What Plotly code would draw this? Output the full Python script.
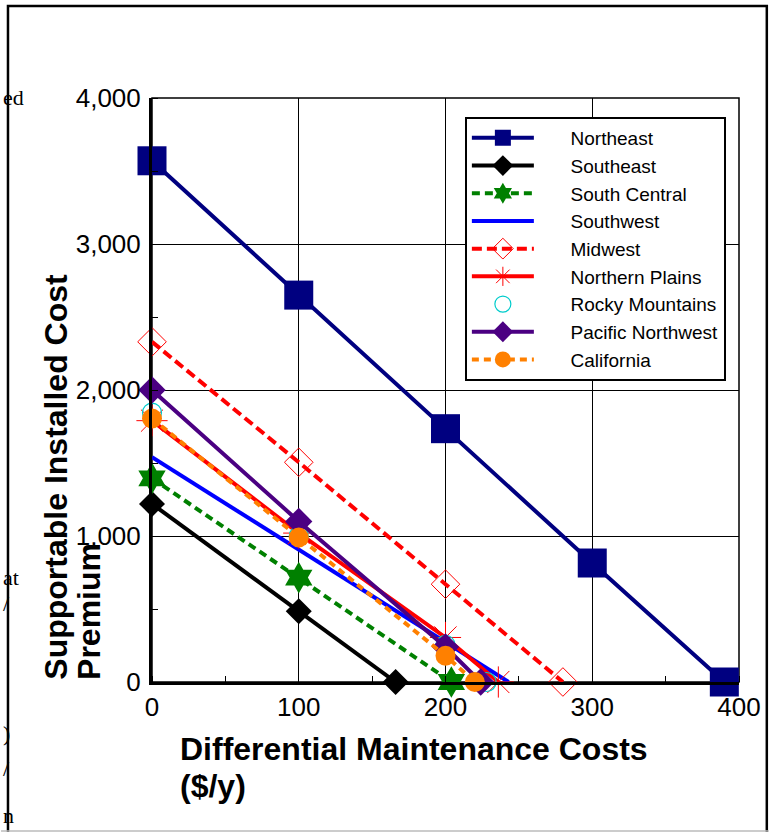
import plotly.graph_objects as go

# ---- data ----
ne_x = [0, 100, 200, 300, 390]
ne_y = [3570, 2650, 1735, 815, 0]

se_x = [0, 100, 166]
se_y = [1220, 485, 0]

sc_x = [0, 100, 204]
sc_y = [1395, 715, 0]

sw_x = [0, 100, 200, 243]
sw_y = [1540, 905, 270, 0]

mw_x = [0, 100, 200, 280]
mw_y = [2330, 1505, 670, 0]

np_x = [0, 100, 200, 236]
np_y = [1790, 1020, 305, 0]

rm_x = [0, 100, 200, 228]
rm_y = [1845, 1000, 255, 0]

pnw_x = [0, 100, 200, 224]
pnw_y = [2000, 1100, 240, 0]

ca_x = [0, 100, 200, 220]
ca_y = [1805, 990, 180, 0]

x_ticks = [0, 100, 200, 300, 400]
y_ticks = [0, 1000, 2000, 3000, 4000]

FONT = "Liberation Sans, Arial, sans-serif"
PAD = "\u00a0" * 6  # gap between legend symbol and label

fig = go.Figure()

def add(name, x, y, mode, color, dash="solid", width=4, symbol="circle",
        size=18, mcolor=None, mline=0, mlinecolor=None):
    fig.add_trace(go.Scatter(
        x=x, y=y, name=PAD + name, mode=mode, cliponaxis=False,
        line=dict(color=color, width=width, dash=dash),
        marker=dict(symbol=symbol, size=size, color=mcolor or color,
                    line=dict(width=mline, color=mlinecolor or color)),
    ))

add("Northeast", ne_x, ne_y, "lines+markers", "#000080", symbol="square", size=29)
add("Southeast", se_x, se_y, "lines+markers", "#000000", symbol="diamond", size=20)
add("South Central", sc_x, sc_y, "lines+markers", "#008000", dash="8px,5px",
    symbol="hexagram", size=24)
add("Southwest", sw_x, sw_y, "lines", "#0000FF")
add("Midwest", mw_x, mw_y, "lines+markers", "#FF0000", dash="10px,5px",
    symbol="diamond-open", size=22, mline=1)
add("Northern Plains", np_x, np_y, "lines+markers", "#FF0000",
    symbol="asterisk-open", size=26, mline=1)
add("Rocky Mountains", rm_x, rm_y, "markers", "#00CCCC",
    symbol="circle-open", size=19, mline=1.2)
add("Pacific Northwest", pnw_x, pnw_y, "lines+markers", "#4B0082",
    symbol="diamond", size=21)
add("California", ca_x, ca_y, "lines+markers", "#FF8000", dash="7px,5px",
    symbol="circle", size=20)

L, R, T, B = 152, 30, 98, 150
W, H = 773, 832
pw, ph = W - L - R, H - T - B

def px(xp):
    return (xp - L) / pw

def py(yp):
    return (H - B - yp) / ph

axis_common = dict(
    showgrid=True, gridcolor="#000000", gridwidth=1,
    showline=True, linecolor="#000000", linewidth=3,
    zeroline=False, ticks="",
    tickfont=dict(family=FONT, size=26, color="#000000"),
)

fig.update_layout(
    width=W, height=H,
    margin=dict(l=L, r=R, t=T, b=B),
    plot_bgcolor="white", paper_bgcolor="white",
    xaxis=dict(range=[0, 400], tickvals=x_ticks, **axis_common,
               minor=dict(dtick=50, ticks="inside", ticklen=6,
                          tickcolor="#000000", tickwidth=1, showgrid=False)),
    yaxis=dict(range=[0, 4000], tickvals=y_ticks, tickformat=",",
               ticklabelstandoff=3, **axis_common,
               minor=dict(dtick=500, ticks="inside", ticklen=6,
                          tickcolor="#000000", tickwidth=1, showgrid=False)),
    legend=dict(x=px(467), y=py(117), xanchor="left", yanchor="top",
                bgcolor="white", bordercolor="#000000", borderwidth=2,
                font=dict(family=FONT, size=19, color="#000000"),
                itemwidth=62, tracegroupgap=0),
    showlegend=True,
)

# plot-area box (thin top/right)
fig.add_shape(type="rect", xref="x domain", yref="y domain",
              x0=0, x1=1, y0=0, y1=1, line=dict(color="#000000", width=1.5),
              layer="below")

# outer frame of the picture
fig.add_shape(type="rect", xref="paper", yref="paper",
              x0=px(7), x1=px(771), y0=py(850), y1=py(6),
              line=dict(color="#000000", width=2.5))
fig.add_shape(type="line", xref="paper", yref="paper",
              x0=px(0), x1=px(773), y0=py(831), y1=py(831),
              line=dict(color="#BBBBBB", width=1.5))

# axis titles (one annotation per line to keep tight line spacing)
TB = dict(family=FONT, size=32, color="#000000")
fig.add_annotation(xref="paper", yref="paper", x=px(55), y=py(682),
                   xanchor="center", yanchor="bottom", textangle=-90,
                   showarrow=False, text="<b>Supportable Installed Cost</b>",
                   font=TB)
fig.add_annotation(xref="paper", yref="paper", x=px(88), y=py(682),
                   xanchor="center", yanchor="bottom", textangle=-90,
                   showarrow=False, text="<b>Premium</b>", font=TB)
fig.add_annotation(xref="paper", yref="paper", x=px(178), y=py(749),
                   xanchor="left", yanchor="middle", showarrow=False,
                   text="<b>Differential Maintenance Costs</b>", font=TB)
fig.add_annotation(xref="paper", yref="paper", x=px(178), y=py(786),
                   xanchor="left", yanchor="middle", showarrow=False,
                   text="<b>($/y)</b>", font=TB)

# visible fragments of the surrounding page text at the left edge
frags = [("ed", 97), ("at", 577), ("/", 603), (")", 733), ("/", 768), ("n", 815)]
for t, yc in frags:
    fig.add_annotation(xref="paper", yref="paper", x=px(0), y=py(yc),
                       xanchor="left", yanchor="middle", showarrow=False,
                       text=t, font=dict(family="Liberation Serif, serif",
                                         size=22, color="#000000"))

fig.write_html("out.html",
               config={"displayModeBar": False},
               post_script="document.body.style.margin='0';"
                           "document.body.style.padding='0';")
